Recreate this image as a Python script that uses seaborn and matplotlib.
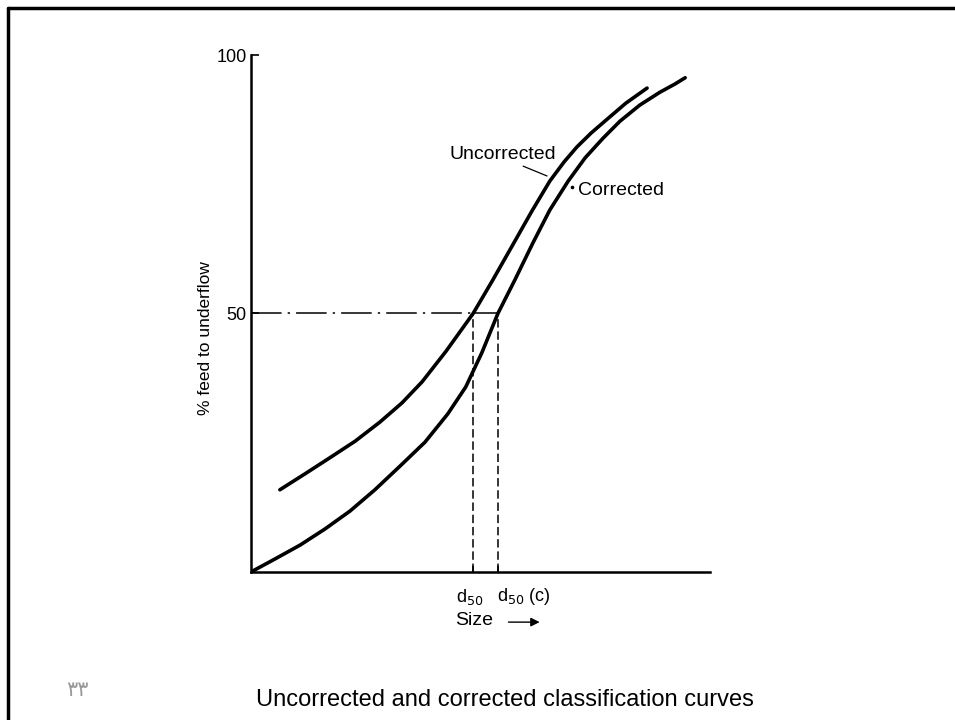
import matplotlib
matplotlib.use("Agg")
import matplotlib.pyplot as plt
from matplotlib.lines import Line2D
import seaborn as sns
import pandas as pd

# values (size axis 0-100 arbitrary, % feed to underflow)
uncorr_size = [6.3, 11.8, 17.2, 22.7, 28.1, 32.9, 37.3, 42.5, 48.4, 52.7, 57.5, 61.2,
               65.1, 68.2, 71.0, 74.1, 77.1, 81.7, 86.3]
uncorr_pct = [15.9, 19.0, 22.1, 25.3, 29.0, 32.7, 36.8, 42.7, 50.0, 56.5, 64.0, 69.8,
              75.6, 79.3, 82.2, 84.9, 87.2, 90.7, 93.6]
corr_size = [0.0, 5.2, 10.7, 16.1, 21.6, 27.0, 32.5, 37.9, 42.9, 46.8, 50.3, 53.8,
             57.5, 61.4, 65.1, 69.1, 72.8, 76.7, 80.4, 84.7, 89.1, 92.4, 94.6]
corr_pct = [0.0, 2.5, 5.2, 8.3, 11.8, 15.9, 20.5, 25.1, 30.6, 35.8, 42.4, 50.0,
            56.5, 63.6, 70.0, 75.6, 80.1, 83.9, 87.2, 90.3, 92.8, 94.4, 95.6]
d50 = 48.4
d50c = 53.8
y_ticks = [50, 100]

df = pd.concat([
    pd.DataFrame({"size": uncorr_size, "pct": uncorr_pct, "curve": "Uncorrected"}),
    pd.DataFrame({"size": corr_size, "pct": corr_pct, "curve": "Corrected"}),
])

sns.set_style("white")
plt.rcParams["font.family"] = ["Liberation Sans", "DejaVu Sans"]
plt.rcParams["text.color"] = "black"

fig = plt.figure(figsize=(9.55, 7.2), dpi=100)
ax = fig.add_axes([0.2628, 0.2056, 0.4806, 0.718])

sns.lineplot(data=df, x="size", y="pct", units="curve", estimator=None, sort=False,
             color="black", lw=2.6, ax=ax, legend=False)

# d50 construction lines
ax.plot([0, d50], [50, 50], color="black", lw=1.1, dashes=(20, 4, 1.5, 4))
ax.plot([d50, d50c], [50, 50], color="black", lw=1.1)
ax.plot([d50, d50], [0, 50], color="black", lw=1.1, dashes=(5.5, 2.5))
ax.plot([d50c, d50c], [0, 50], color="black", lw=1.1, dashes=(5.5, 2.5))

ax.set_xlim(0, 100)
ax.set_ylim(0, 100)
ax.set_yticks(y_ticks)
ax.set_yticklabels([str(t) for t in y_ticks], fontsize=13)
ax.set_xticks([d50, d50c])
ax.set_xticklabels([])
ax.tick_params(direction="in", length=6, width=1.2, colors="black", pad=3, left=True, bottom=True)
ax.tick_params(axis="x", length=4)
sns.despine(ax=ax)
for s in ["left", "bottom"]:
    ax.spines[s].set_color("black")
    ax.spines[s].set_linewidth(1.8)

ax.set_xlabel("")
ax.set_ylabel("")
fig.text(0.2147, 0.5306, "% feed to underflow", rotation=90, ha="center", va="center", fontsize=12.5)

ax.text(47.7, -4.8, "d$_{50}$", ha="center", va="center", fontsize=13)
ax.text(53.6, -4.8, "d$_{50}$ (c)", ha="left", va="center", fontsize=13)
ax.text(48.6, -9.4, "Size", ha="center", va="center", fontsize=14)
ax.annotate("", xy=(63.5, -9.7), xytext=(55.5, -9.7), annotation_clip=False,
            arrowprops=dict(arrowstyle="-|>", color="black", lw=1.0, mutation_scale=13))

# curve labels with their leaders
ax.text(54.8, 80.7, "Uncorrected", ha="center", va="center", fontsize=14)
ax.plot([59.3, 64.5], [78.5, 76.6], color="black", lw=0.9)
ax.text(71.2, 73.7, "Corrected", ha="left", va="center", fontsize=14)
ax.plot([69.9], [74.5], marker="o", ms=1.6, color="black")

fig.text(0.529, 0.028, "Uncorrected and corrected classification curves",
         ha="center", va="center", fontsize=17)
fig.text(0.081, 0.042, "٣٣", ha="center", va="center", fontsize=15, color="#999999",
         family=["DejaVu Sans", "Noto Sans"])

# slide frame
fig.add_artist(Line2D([0.0085, 0.0085], [0, 0.989], color="black", lw=2.5, transform=fig.transFigure))
fig.add_artist(Line2D([0.0085, 1.0], [0.989, 0.989], color="black", lw=2.5, transform=fig.transFigure))

fig.savefig("out.png", dpi=100)
